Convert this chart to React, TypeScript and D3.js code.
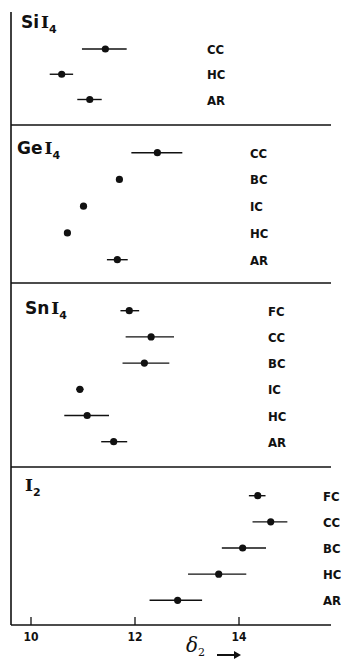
import * as d3 from 'd3'

// values (delta_2), one array per compound
const SI_ROWS = ['CC', 'HC', 'AR']
const SI_VAL = [11.43, 10.59, 11.13]
const SI_LO = [10.98, 10.36, 10.89]
const SI_HI = [11.84, 10.81, 11.36]

const GE_ROWS = ['CC', 'BC', 'IC', 'HC', 'AR']
const GE_VAL = [12.43, 11.7, 11.01, 10.7, 11.66]
const GE_LO = [11.93, 11.7, 11.01, 10.7, 11.46]
const GE_HI = [12.91, 11.7, 11.01, 10.7, 11.86]

const SN_ROWS = ['FC', 'CC', 'BC', 'IC', 'HC', 'AR']
const SN_VAL = [11.89, 12.31, 12.18, 10.94, 11.08, 11.59]
const SN_LO = [11.72, 11.82, 11.76, 10.87, 10.64, 11.35]
const SN_HI = [12.08, 12.75, 12.66, 11.01, 11.5, 11.85]

const I2_ROWS = ['FC', 'CC', 'BC', 'HC', 'AR']
const I2_VAL = [14.36, 14.61, 14.07, 13.61, 12.82]
const I2_LO = [14.19, 14.26, 13.67, 13.02, 12.28]
const I2_HI = [14.51, 14.93, 14.52, 14.14, 13.29]

const X_TICKS = [10, 12, 14]

const W = 341
const H = 662
const LEFT = 11
const RIGHT = 331
const AXIS_Y = 625
const INK = '#111'

const x = d3.scaleLinear().domain([10, 14]).range([31, 239])

// panel layout: formula, row band, label column
const PANELS = [
  { el: 'Si', sub: '4', rows: SI_ROWS, val: SI_VAL, lo: SI_LO, hi: SI_HI, bottom: 125, r0: 49, r1: 99.5, labelX: 207, titleX: 21, titleY: 28 },
  { el: 'Ge', sub: '4', rows: GE_ROWS, val: GE_VAL, lo: GE_LO, hi: GE_HI, bottom: 283, r0: 152.7, r1: 259.7, labelX: 250, titleX: 17, titleY: 154 },
  { el: 'Sn', sub: '4', rows: SN_ROWS, val: SN_VAL, lo: SN_LO, hi: SN_HI, bottom: 467, r0: 310.7, r1: 441.7, labelX: 268, titleX: 25, titleY: 314 },
  { el: '', sub: '2', rows: I2_ROWS, val: I2_VAL, lo: I2_LO, hi: I2_HI, bottom: AXIS_Y, r0: 495.7, r1: 600.3, labelX: 323, titleX: 25, titleY: 491 },
]

const sans = '"DejaVu Sans", sans-serif'
const narrow = '"Liberation Sans Narrow", "DejaVu Sans Condensed", sans-serif'
const serif = '"DejaVu Serif", serif'

function Panel({ p }: { p: typeof PANELS[number] }) {
  const y = d3.scalePoint<string>().domain(p.rows).range([p.r0, p.r1])
  return (
    <g>
      <text x={p.titleX} y={p.titleY} fontFamily={sans} fontSize={17} fontWeight="bold" fill={INK}>
        {p.el}
        <tspan fontFamily={serif} dx={p.el ? 2 : 0}>I</tspan>
        <tspan fontSize={11} dy={5}>{p.sub}</tspan>
      </text>
      {p.rows.map((r, i) => {
        const cy = y(r) as number
        return (
          <g key={r}>
            {p.hi[i] - p.lo[i] > 0.01 && (
              <line x1={x(p.lo[i])} x2={x(p.hi[i])} y1={cy} y2={cy} stroke={INK} strokeWidth={1.4} />
            )}
            <circle cx={x(p.val[i])} cy={cy} r={3.6} fill={INK} />
            <text x={p.labelX} y={cy + 5} fontFamily={narrow} fontSize={13} fontWeight="bold" fill={INK}>
              {r}
            </text>
          </g>
        )
      })}
      <line x1={LEFT} x2={RIGHT} y1={p.bottom} y2={p.bottom} stroke={INK} strokeWidth={1.6} />
    </g>
  )
}

export default function App() {
  return (
    <svg width={W} height={H} style={{ position: 'absolute', left: 0, top: 0, background: '#fff' }}>
      <rect width={W} height={H} fill="#fff" />
      <line x1={LEFT} x2={LEFT} y1={12} y2={AXIS_Y} stroke={INK} strokeWidth={1.6} />
      {PANELS.map(p => <Panel key={p.el + p.sub} p={p} />)}
      {X_TICKS.map(t => (
        <g key={t}>
          <line x1={x(t)} x2={x(t)} y1={AXIS_Y - 8} y2={AXIS_Y} stroke={INK} strokeWidth={1.3} />
          <text x={x(t)} y={AXIS_Y + 16} textAnchor="middle" fontFamily={narrow} fontSize={12} fontWeight="bold" fill={INK}>
            {t}
          </text>
        </g>
      ))}
      <text x={186} y={652} fontFamily={serif} fontStyle="italic" fontSize={20} fill={INK}>
        δ<tspan fontSize={11} dy={4} fontStyle="normal">2</tspan>
      </text>
      <line x1={217} x2={236} y1={655} y2={655} stroke={INK} strokeWidth={2} />
      <path d="M234,651 L241,655 L234,659 Z" fill={INK} />
    </svg>
  )
}
